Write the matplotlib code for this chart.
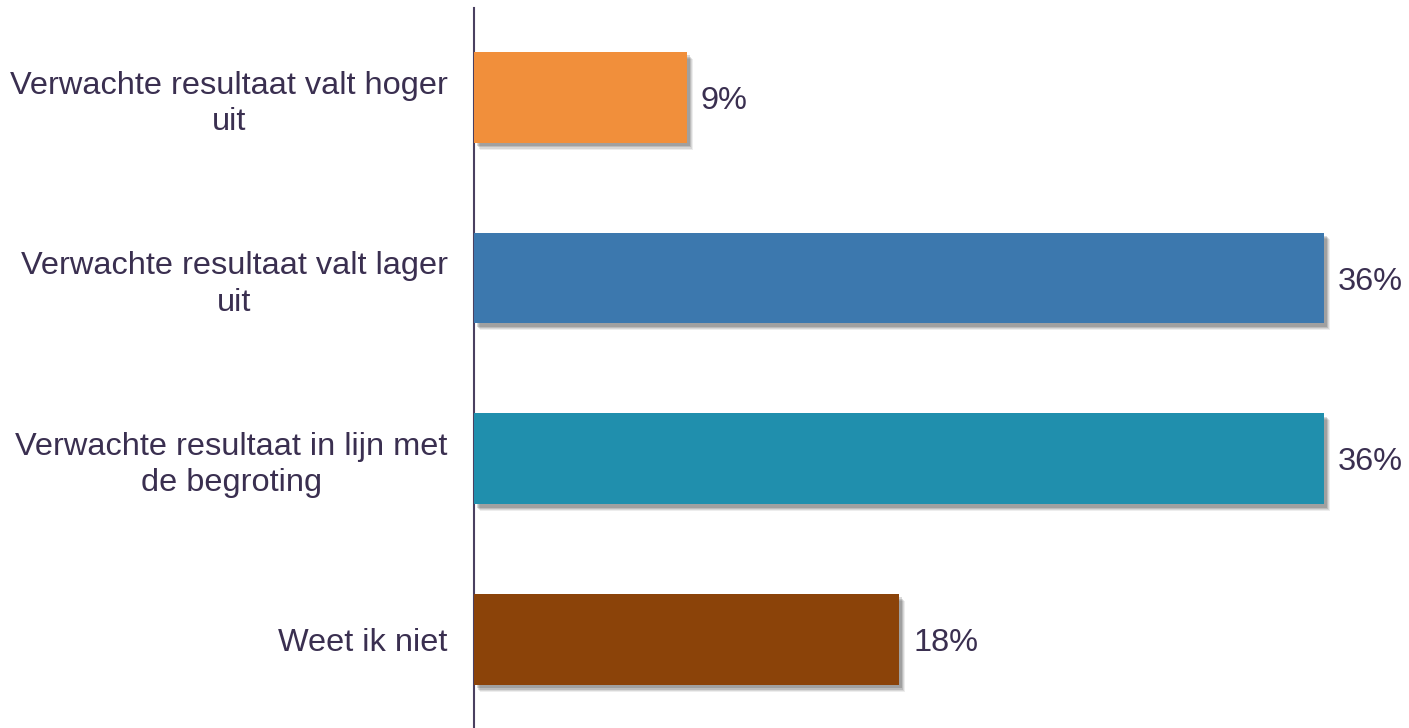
import matplotlib
matplotlib.use("Agg")
import matplotlib.pyplot as plt
import matplotlib.patheffects as pe

categories = [
    "Verwachte resultaat valt hoger\nuit",
    "Verwachte resultaat valt lager\nuit",
    "Verwachte resultaat in lijn met\nde begroting",
    "Weet ik niet",
]
values = [9, 36, 36, 18]
value_labels = ["9%", "36%", "36%", "18%"]
colors = ["#F18F3B", "#3C78AE", "#208FAD", "#8B4309"]

text_color = "#3A2F50"
plt.rcParams['font.family'] = ['Liberation Sans', 'DejaVu Sans']
FS = 23.4

fig = plt.figure(figsize=(14.09, 7.28), dpi=100)
ax = fig.add_axes([474/1409, 0, 1 - 474/1409, 1 - 8/728])

ypos = list(range(len(categories)))
shadow = [
    pe.SimplePatchShadow(offset=(4.5, -5.0), shadow_rgbFace="#000000", alpha=0.07),
    pe.SimplePatchShadow(offset=(3.8, -4.2), shadow_rgbFace="#000000", alpha=0.09),
    pe.SimplePatchShadow(offset=(3.0, -3.4), shadow_rgbFace="#000000", alpha=0.12),
    pe.SimplePatchShadow(offset=(2.2, -2.5), shadow_rgbFace="#000000", alpha=0.15),
    pe.Normal(),
]
bars = ax.barh(ypos, values, height=0.503, color=colors, zorder=3)
for b in bars:
    b.set_path_effects(shadow)

for y, v, lab in zip(ypos, values, value_labels):
    ax.text(v + 0.6, y + 0.02, lab, va="center", ha="left", fontsize=FS, color=text_color)

ax.set_yticks(ypos)
ax.set_yticklabels(categories, fontsize=FS, color=text_color,
                   multialignment="center", linespacing=1.27)
ax.tick_params(axis="y", length=0, pad=19)
ax.set_xticks([])
ax.set_xlim(0, 39.6)
ax.set_ylim(3.49, -0.494)
for s in ["top", "right", "bottom"]:
    ax.spines[s].set_visible(False)
ax.spines["left"].set_color("#4A4060")
ax.spines["left"].set_linewidth(1.5)

fig.savefig("out.png", dpi=100)
